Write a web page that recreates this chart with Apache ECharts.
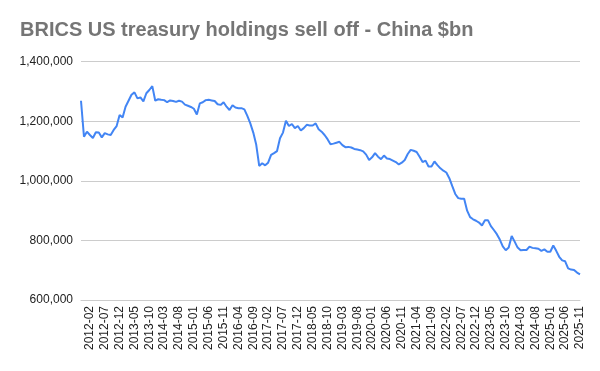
<!DOCTYPE html>
<html>
<head>
<meta charset="utf-8">
<script src="https://cdn.jsdelivr.net/npm/echarts@6/dist/echarts.min.js"></script>
<style>
html,body{margin:0;padding:0;background:#fff;}
#chart{width:600px;height:371px;}
</style>
</head>
<body>
<div id="chart"></div>
<script>
// Month range of the data (monthly observations)
var startYear = 2011, startMonth = 11;
var endYear = 2025, endMonth = 11;

// China holdings of US treasuries ($ millions), 2011-11 .. 2025-11
var holdings = [
  1269000, 1148000, 1165000, 1154000, 1144000, 1163000, 1162000, 1146000, 1160000, 1156000,
  1154000, 1171000, 1184000, 1221000, 1213000, 1249000, 1269000, 1289000, 1297000, 1277000,
  1280000, 1267000, 1294000, 1305000, 1318000, 1269000, 1274000, 1272000, 1271000, 1264000,
  1270000, 1268000, 1265000, 1269000, 1266000, 1256000, 1252000, 1248000, 1242000, 1223000,
  1260000, 1264000, 1271000, 1272000, 1270000, 1268000, 1257000, 1255000, 1264000, 1249000,
  1238000, 1254000, 1246000, 1244000, 1244000, 1240000, 1218000, 1193000, 1162000, 1121000,
  1050000, 1059000, 1052000, 1061000, 1087000, 1093000, 1100000, 1143000, 1162000, 1202000,
  1184000, 1191000, 1177000, 1184000, 1169000, 1177000, 1188000, 1186000, 1186000, 1193000,
  1173000, 1165000, 1154000, 1140000, 1123000, 1125000, 1128000, 1131000, 1120000, 1113000,
  1114000, 1112000, 1107000, 1105000, 1103000, 1099000, 1088000, 1070000, 1079000, 1093000,
  1081000, 1073000, 1085000, 1075000, 1073000, 1068000, 1063000, 1055000, 1061000, 1070000,
  1090000, 1104000, 1101000, 1097000, 1081000, 1063000, 1068000, 1048000, 1048000, 1065000,
  1053000, 1042000, 1034000, 1028000, 1009000, 982000, 956000, 942000, 940000, 940000,
  900000, 878000, 871000, 866000, 860000, 850000, 868000, 868000, 848000, 835000,
  821000, 803000, 780000, 767000, 776000, 815000, 796000, 776000, 767000, 768000,
  768000, 779000, 775000, 774000, 772000, 765000, 770000, 762000, 762000, 783000,
  765000, 745000, 733000, 730000, 706000, 702000, 701000, 692000, 686000
];

// Y axis ticks
var yTicks = [600000, 800000, 1000000, 1200000, 1400000];

// Category labels (YYYY-MM)
var months = [];
(function(){
  var y = startYear, m = startMonth;
  while (y < endYear || (y === endYear && m <= endMonth)) {
    months.push(y + '-' + (m < 10 ? '0' + m : '' + m));
    m++; if (m > 12) { m = 1; y++; }
  }
})();

var chart = echarts.init(document.getElementById('chart'), null, {renderer: 'canvas'});
var lastIdx = months.length - 1;
chart.setOption({
  animation: false,
  backgroundColor: '#ffffff',
  title: {
    text: 'BRICS US treasury holdings sell off - China $bn',
    left: 20, top: 20, padding: 0,
    textStyle: {fontFamily: 'Liberation Sans, Arial, sans-serif', fontSize: 20, fontWeight: 'bold', color: '#757575'}
  },
  grid: {left: 81, right: 20, top: 61.7, bottom: 71, containLabel: false},
  xAxis: {
    type: 'category',
    data: months,
    boundaryGap: false,
    axisLine: {show: true, lineStyle: {color: '#cccccc', width: 1}},
    axisTick: {show: false},
    splitLine: {show: false},
    axisLabel: {
      rotate: 90,
      margin: 6,
      color: '#222222',
      fontFamily: 'Liberation Sans, Arial, sans-serif',
      fontSize: 12,
      interval: function(index){ return (lastIdx - index) % 5 === 0; }
    }
  },
  yAxis: {
    type: 'value',
    min: yTicks[0],
    max: yTicks[yTicks.length - 1],
    interval: yTicks[1] - yTicks[0],
    axisLine: {show: false},
    axisTick: {show: false},
    splitLine: {lineStyle: {color: '#cccccc', width: 1}},
    axisLabel: {
      margin: 8,
      color: '#222222',
      fontFamily: 'Liberation Sans, Arial, sans-serif',
      fontSize: 12,
      formatter: function(v){ return v.toLocaleString('en-US'); }
    }
  },
  series: [{
    type: 'line',
    data: holdings,
    showSymbol: false,
    symbol: 'none',
    lineStyle: {color: '#4285f4', width: 2},
    itemStyle: {color: '#4285f4'}
  }]
});
</script>
</body>
</html>
